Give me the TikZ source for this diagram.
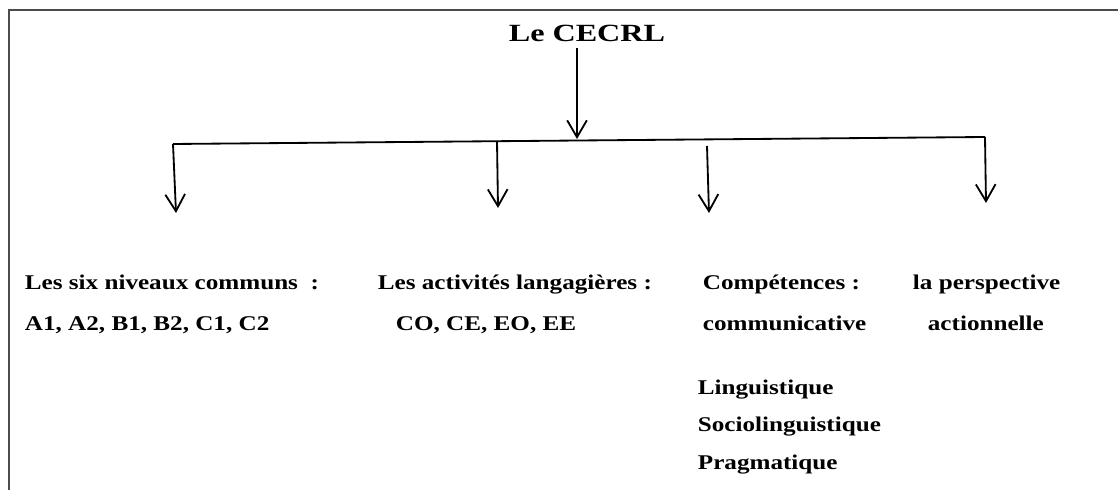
\documentclass[tikz,border=0pt]{standalone}
\usepackage{fontspec}
\setmainfont[FakeStretch=1.2]{Liberation Serif}
\newfontfamily\titrefont[FakeStretch=1.3]{Liberation Serif}
\usetikzlibrary{arrows.meta,calc}

\tikzset{
	txt/.style={anchor=base west,inner sep=0pt,font=\bfseries\fontsize{14.9}{18}\selectfont},
	titre/.style={anchor=base,inner sep=0pt,font=\titrefont\bfseries\fontsize{17.6}{21}\selectfont}
}

\begin{document}
\begin{tikzpicture}[x=0.025cm,y=-0.025cm,>={Straight Barb[length=12pt,width=14pt]},line width=1.3pt]
		\useasboundingbox (0,0) rectangle (1118,490);
		\draw[line width=1.6pt,black!70] (1118,10) -- (9,10) -- (9,490);
		% titre et barre
		\node[titre] (cecrl) at (587,42) {Le CECRL};
		\coordinate (b0) at (577,139);
		\coordinate (g) at (173,144);
		\coordinate (d) at (985,137);
		\draw[->] ($(cecrl.south -| b0)+(0,5)$) -- (b0);
		\draw (g) -- (d);
		% branches
		\coordinate (h2) at (497,141);
		\coordinate (h3) at (707,146);
		\coordinate (f1) at (176,213);
		\coordinate (f2) at (498,208);
		\coordinate (f3) at (709,213);
		\coordinate (f4) at (986,203);
		\draw[->] (g) -- (f1);
		\draw[->] (h2) -- (f2);
		\draw[->] (h3) -- (f3);
		\draw[->] (d) -- (f4);
		% textes
		\node[txt] (niveaux) at (24,290) {Les six niveaux communs~ :};
		\node[txt] (niveaux2) at (24,331) {A1, A2, B1, B2, C1, C2};
		\node[txt] (activites) at (377,290) {Les activités langagières :};
		\node[txt] (activites2) at (395,331) {CO, CE, EO, EE};
		\node[txt] (competences) at (702,290) {Compétences :};
		\node[txt] (competences2) at (702,331) {communicative};
		\node[txt] (perspective) at (912,290) {la perspective};
		\node[txt] (perspective2) at (927,331) {actionnelle};
		\node[txt] (ling) at (697,395) {Linguistique};
		\node[txt] (socio) at (697,432) {Sociolinguistique};
		\node[txt] (prag) at (697,470) {Pragmatique};
	\end{tikzpicture}
\end{document}
